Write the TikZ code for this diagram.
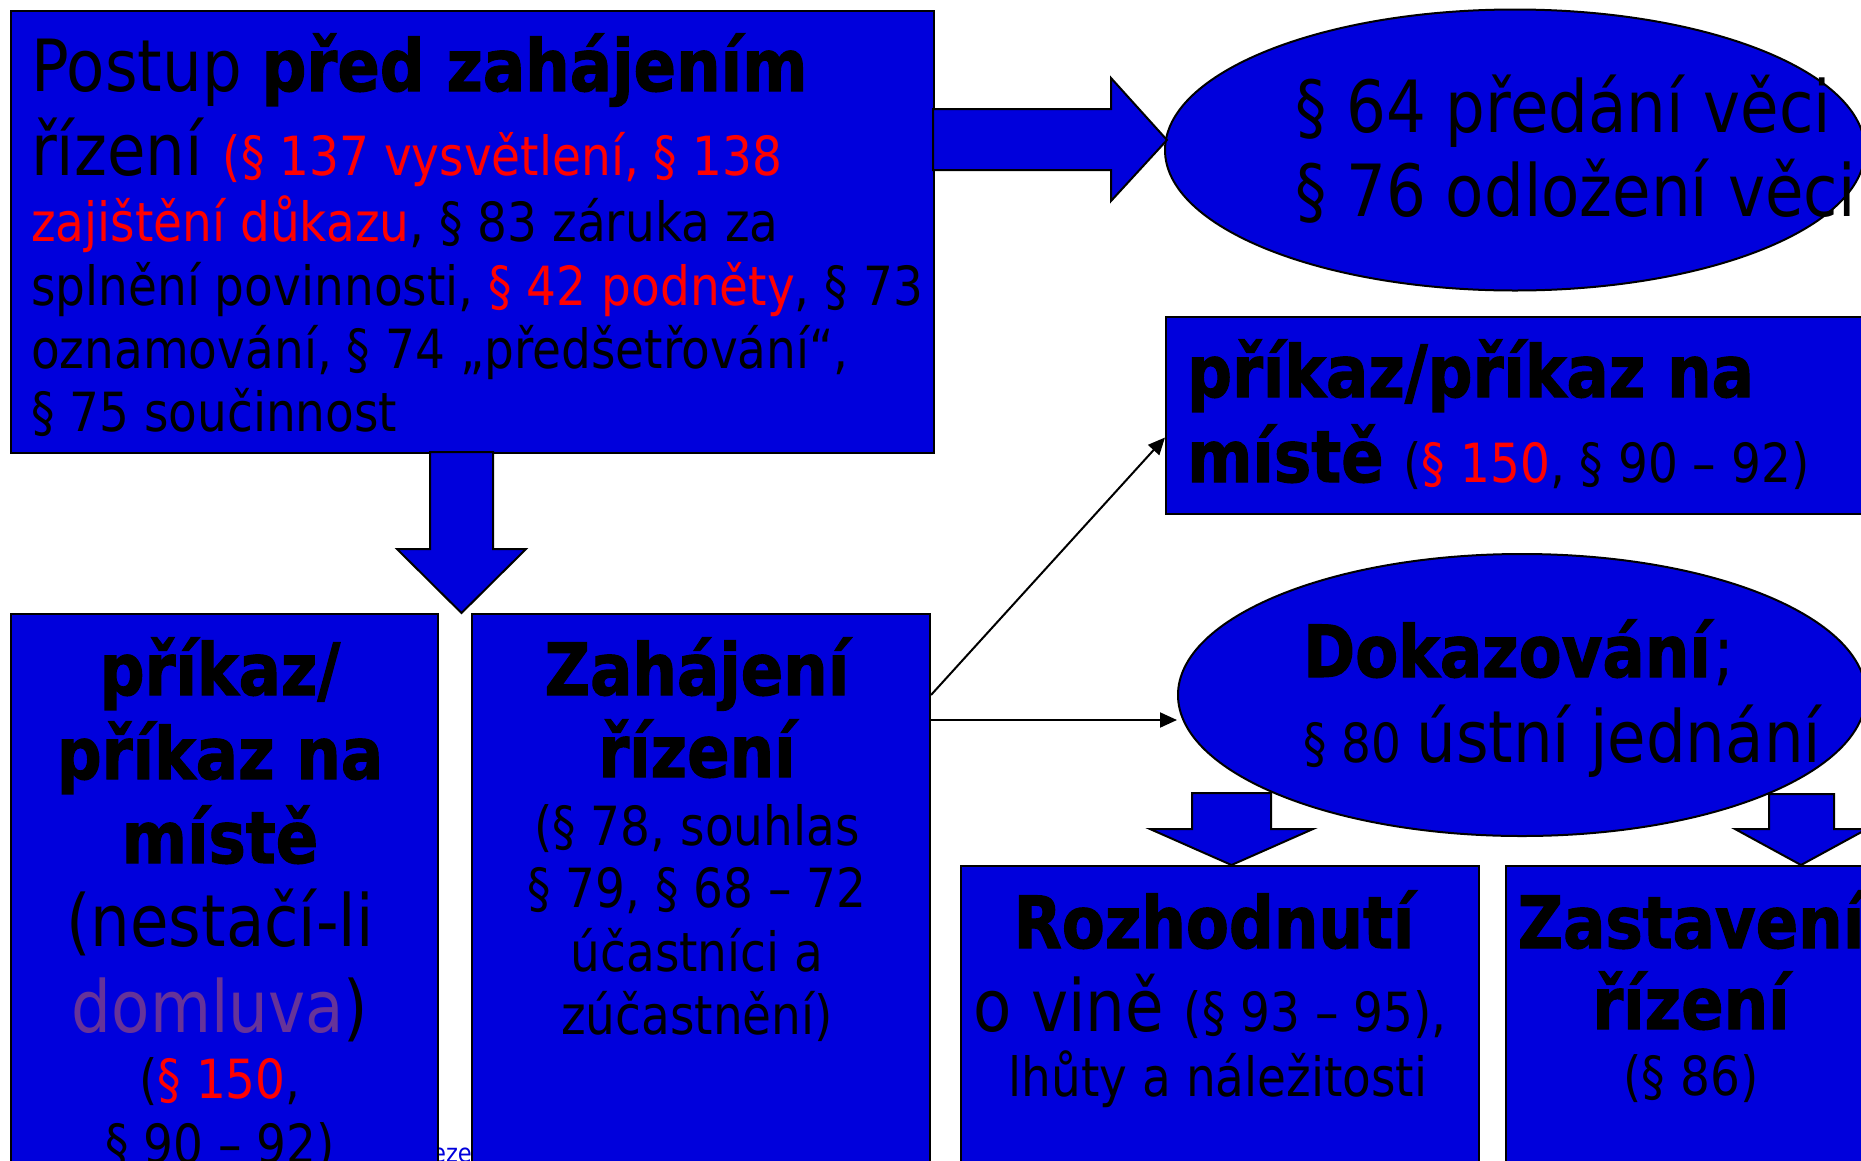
\documentclass[tikz,border=0pt]{standalone}
\usepackage{fontspec}
\setmainfont{DejaVu Sans}[FakeStretch=0.87, BoldFeatures={FakeBold=1.5}]
\usetikzlibrary{shapes.geometric,arrows.meta}
\definecolor{boxblue}{RGB}{0,0,220}
\definecolor{txtred}{RGB}{255,0,0}
\definecolor{txtpurple}{RGB}{102,51,153}
\newcommand\szL{\fontsize{72pt}{86pt}\selectfont}
\newcommand\szM{\fontsize{54pt}{64pt}\selectfont}
\newcommand\rd[1]{\textcolor{txtred}{#1}}
\begin{document}
\begin{tikzpicture}[x=1pt,y=-1pt,
  box/.style={draw=black, line width=2pt, fill=boxblue, rectangle, inner sep=0pt, anchor=north west},
  oval/.style={draw=black, line width=2pt, fill=boxblue, ellipse, inner sep=0pt},
  barrow/.style={draw=black, line width=2pt, fill=boxblue, line join=miter},
  conn/.style={draw=black, line width=2pt, -{Triangle[length=17pt,width=15pt]}},
  txt/.style={inner sep=0pt, anchor=base west, text=black},
  ctxt/.style={inner sep=0pt, anchor=base, text=black}]
\useasboundingbox[fill=white] (0,0) rectangle (1861,1160);

% footer text partly hidden behind the boxes
\node[inner sep=0pt, anchor=base west, text=boxblue] (eze) at (432,1162) {\fontsize{26pt}{30pt}\selectfont eze};

% boxes
\node[box, minimum width=923pt, minimum height=442pt] (top) at (10,10) {};
\node[box, minimum width=712pt, minimum height=197pt] (pr) at (1165,316) {};
\node[box, minimum width=427pt, minimum height=600pt] (pl) at (10,613) {};
\node[box, minimum width=458pt, minimum height=600pt] (zah) at (471,613) {};
\node[box, minimum width=518pt, minimum height=400pt] (roz) at (960,865) {};
\node[box, minimum width=372pt, minimum height=400pt] (zas) at (1505,865) {};
\node[oval, minimum width=700pt, minimum height=281pt] (odl) at (1515,150) {};
\node[oval, minimum width=688pt, minimum height=282pt] (dok) at (1522,695) {};

% block arrows
\draw[barrow] (933,109) -- (1111,109) -- (1111,78) -- (1167,140) -- (1111,201) -- (1111,170) -- (933,170) -- cycle;
\draw[barrow] (430,452) -- (430,549) -- (397,549) -- (461.5,613) -- (526,549) -- (493,549) -- (493,452) -- cycle;
\draw[barrow] (1192,793) -- (1192,829) -- (1150,829) -- (1231.5,865) -- (1313,829) -- (1271,829) -- (1271,793) -- cycle;
\draw[barrow] (1769,794) -- (1769,829) -- (1735,829) -- (1801,865) -- (1867,829) -- (1834,829) -- (1834,794) -- cycle;

% thin connectors
\draw[conn] ([yshift=-82pt]zah.north east) -- ([yshift=-22pt]pr.west);
\coordinate (h1) at ([yshift=-107pt]zah.north east);
\draw[conn] (h1) -- (h1 -| dok.west);

% top box text
\node[txt] (t1) at (31,91) {\szL Postup \textbf{před zahájením}};
\node[txt] (t2) at (31,175) {\szL řízení \szM\rd{(§ 137 vysvětlení, § 138}};
\node[txt] (t3) at (31,241) {\szM\rd{zajištění důkazu}, § 83 záruka za};
\node[txt] (t4) at (31,305) {\szM splnění povinnosti, \rd{§ 42 podněty}, § 73};
\node[txt] (t5) at (31,368) {\szM oznamování, § 74 „předšetřování“,};
\node[txt] (t6) at (31,431) {\szM § 75 součinnost};

% right box text
\node[txt] (p1) at (1187,397) {\szL\bfseries příkaz/příkaz na};
\node[txt] (p2) at (1187,482) {\szL\textbf{místě} \szM(\rd{§ 150}, § 90 – 92)};

% ellipse texts
\node[txt] (e1) at (1295,132) {\szL § 64 předání věci};
\node[txt] (e2) at (1295,216) {\szL § 76 odložení věci};
\node[txt] (d1) at (1303,677) {\szL\textbf{Dokazování};};
\node[txt] (d2) at (1303,762) {\szM § 80 \szL ústní jednání};

% bottom-left box text
\node[ctxt] (b1) at (220,695) {\szL\bfseries příkaz/};
\node[ctxt] (b2) at (220,779) {\szL\bfseries příkaz na};
\node[ctxt] (b3) at (220,863) {\szL\bfseries místě};
\node[ctxt] (b4) at (220,946) {\szL (nestačí-li};
\node[ctxt] (b5) at (220,1032) {\szL\textcolor{txtpurple}{domluva})};
\node[ctxt] (b6) at (220,1098) {\szM(\rd{§ 150},};
\node[ctxt] (b7) at (220,1163) {\szM § 90 – 92)};

% Zahajeni box text
\node[ctxt] (z1) at (697,695) {\szL\bfseries Zahájení};
\node[ctxt] (z2) at (697,777) {\szL\bfseries řízení};
\node[ctxt] (z3) at (697,845) {\szM (§ 78, souhlas};
\node[ctxt] (z4) at (697,907) {\szM § 79, § 68 – 72};
\node[ctxt] (z5) at (697,971) {\szM účastníci a};
\node[ctxt] (z6) at (697,1034) {\szM zúčastnění)};

% Rozhodnuti box text
\node[ctxt] (r1) at (1214,948) {\szL\bfseries Rozhodnutí};
\node[ctxt] (r2) at (1210,1031) {\szL o vině \szM(§ 93 – 95),};
\node[ctxt] (r3) at (1218,1096) {\szM lhůty a náležitosti};

% Zastaveni box text
\node[ctxt] (s1) at (1691,948) {\szL\bfseries Zastavení};
\node[ctxt] (s2) at (1691,1029) {\szL\bfseries řízení};
\node[ctxt] (s3) at (1691,1095) {\szM (§ 86)};
\end{tikzpicture}
\end{document}
